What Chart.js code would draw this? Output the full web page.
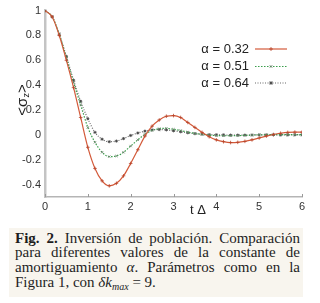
<!DOCTYPE html>
<html>
<head>
<meta charset="utf-8">
<script src="https://cdn.jsdelivr.net/npm/chart.js@4"></script>
<style>
  html, body { margin: 0; padding: 0; background: #fff; width: 320px; height: 303px; overflow: hidden; }
  #wrap { position: absolute; left: 0; top: 0; width: 320px; height: 225px; }
  #caption {
    position: absolute; left: 9px; top: 228px; width: 285px; height: 61px;
    padding: 2.6px 3px 5.4px 6px; background: #f8f5ee; color: #1e1e1e;
    font-family: "Liberation Serif", serif; font-size: 15px; line-height: 14.7px;
  }
  #caption .ln { text-align: justify; text-align-last: justify; white-space: nowrap; }
  #caption .ln.last { text-align-last: left; }
  #caption sub { font-size: 10px; line-height: 0; vertical-align: -3px; font-style: italic; }
</style>
</head>
<body>
<div id="wrap"><canvas id="c" width="320" height="225"></canvas></div>
<div id="caption">
  <div class="ln"><b>Fig. 2.</b> Inversión de población. Comparación</div>
  <div class="ln">para diferentes valores de la constante de</div>
  <div class="ln">amortiguamiento <i>α</i>. Parámetros como en la</div>
  <div class="ln last">Figura 1, con <i>δk</i><sub>max</sub> = 9.</div>
</div>
<script>
// time axis (t Δ), one sample per marker
const tValues = [0, 0.167, 0.333, 0.5, 0.667, 0.833, 1, 1.167, 1.333, 1.5, 1.667, 1.833,
  2, 2.167, 2.333, 2.5, 2.667, 2.833, 3, 3.167, 3.333, 3.5, 3.667, 3.833,
  4, 4.167, 4.333, 4.5, 4.667, 4.833, 5, 5.167, 5.333, 5.5, 5.667, 5.833, 6];

const sigmaA032 = [1, 0.95, 0.80, 0.60, 0.38, 0.14, -0.10, -0.27, -0.37, -0.41, -0.39, -0.33,
  -0.23, -0.12, -0.01, 0.07, 0.12, 0.15, 0.155, 0.14, 0.10, 0.06, 0.02, -0.015,
  -0.04, -0.055, -0.062, -0.06, -0.052, -0.04, -0.025, -0.01, 0.003, 0.013, 0.02, 0.022, 0.022];

const sigmaA051 = [1, 0.95, 0.81, 0.62, 0.42, 0.24, 0.06, -0.06, -0.14, -0.175, -0.17, -0.14,
  -0.09, -0.04, 0.005, 0.035, 0.05, 0.052, 0.045, 0.035, 0.022, 0.012, 0.004, -0.002,
  -0.006, -0.007, -0.007, -0.006, -0.004, -0.002, 0, 0.001, 0.002, 0.002, 0.002, 0.002, 0.002];

const sigmaA064 = [1, 0.95, 0.81, 0.63, 0.44, 0.27, 0.13, 0.02, -0.035, -0.055, -0.05, -0.03,
  -0.005, 0.015, 0.03, 0.04, 0.043, 0.04, 0.033, 0.025, 0.017, 0.01, 0.005, 0.002,
  0, -0.001, -0.002, -0.002, -0.002, -0.001, 0, 0, 0, 0, 0, 0, 0];

const seriesLabels = ['α = 0.32', 'α = 0.51', 'α = 0.64'];
const yTicks = [-0.4, -0.2, 0, 0.2, 0.4, 0.6, 0.8, 1];
const xTicks = [0, 1, 2, 3, 4, 5, 6];

const toPoints = ys => tValues.map((t, i) => ({ x: t, y: ys[i] }));

// labels, inward x ticks and the legend (text left, sample right)
const decorations = {
  id: 'decorations',
  afterDraw(chart) {
    const ctx = chart.ctx;
    const xs = chart.scales.x;
    const area = chart.chartArea;
    ctx.save();

    ctx.strokeStyle = '#9a9a9a';
    ctx.lineWidth = 1;
    xTicks.forEach(v => {
      const px = Math.round(xs.getPixelForValue(v)) + 0.5;
      ctx.beginPath();
      ctx.moveTo(px, area.bottom);
      ctx.lineTo(px, area.bottom - 3);
      ctx.stroke();
    });

    // y title <σz>
    ctx.fillStyle = '#222';
    ctx.save();
    ctx.translate(23, 100);
    ctx.rotate(-Math.PI / 2);
    ctx.textBaseline = 'middle';
    ctx.textAlign = 'left';
    ctx.font = '15px "Liberation Sans", sans-serif';
    const a = '<σ', b = 'z', c = '>';
    const wa = ctx.measureText(a).width, wc = ctx.measureText(c).width;
    ctx.font = '9px "Liberation Sans", sans-serif';
    const wb = ctx.measureText(b).width;
    let x0 = -(wa + wb + wc) / 2;
    ctx.font = '15px "Liberation Sans", sans-serif';
    ctx.fillText(a, x0, 0);
    ctx.font = '9px "Liberation Sans", sans-serif';
    ctx.fillText(b, x0 + wa, 4);
    ctx.font = '15px "Liberation Sans", sans-serif';
    ctx.fillText(c, x0 + wa + wb, 0);
    ctx.restore();

    // x title
    ctx.font = '13px "Liberation Sans", sans-serif';
    ctx.textAlign = 'center';
    ctx.textBaseline = 'middle';
    ctx.fillText('t Δ', 198, 210);

    // legend
    const rows = [49, 66.5, 83];
    chart.data.datasets.forEach((ds, i) => {
      const y = rows[i];
      ctx.fillStyle = '#222';
      ctx.font = '13px "Liberation Sans", sans-serif';
      ctx.textAlign = 'right';
      ctx.textBaseline = 'middle';
      ctx.fillText(ds.label, 249, y);
      ctx.strokeStyle = ds.borderColor;
      ctx.lineWidth = ds.borderWidth;
      ctx.setLineDash(ds.borderDash || []);
      ctx.beginPath();
      ctx.moveTo(255, y);
      ctx.lineTo(287, y);
      ctx.stroke();
      ctx.setLineDash([]);
      ctx.strokeStyle = ds.pointBorderColor;
      ctx.fillStyle = ds.pointBorderColor;
      ctx.lineWidth = 0.8;
      Chart.helpers.drawPoint(ctx, { pointStyle: ds.pointStyle, radius: 2, borderWidth: 0.8, rotation: 0 }, 271, y);
    });
    ctx.restore();
  }
};

new Chart(document.getElementById('c').getContext('2d'), {
  type: 'line',
  data: {
    datasets: [
      {
        label: seriesLabels[0], data: toPoints(sigmaA032),
        borderColor: '#d35a3a', borderWidth: 1.2, pointStyle: 'cross',
        pointBorderColor: '#b8442a', pointRadius: 1.8, pointBorderWidth: 0.8
      },
      {
        label: seriesLabels[1], data: toPoints(sigmaA051),
        borderColor: '#3a9e4c', borderWidth: 1.2, borderDash: [1.5, 1.5], pointStyle: 'crossRot',
        pointBorderColor: '#6b7f6b', pointRadius: 1.6, pointBorderWidth: 0.8
      },
      {
        label: seriesLabels[2], data: toPoints(sigmaA064),
        borderColor: '#6a6a6a', borderWidth: 1.2, borderDash: [1, 1.5], pointStyle: 'star',
        pointBorderColor: '#444', pointRadius: 1.6, pointBorderWidth: 0.8
      }
    ]
  },
  options: {
    responsive: false,
    animation: false,
    events: [],
    layout: { padding: { left: 0, right: 18, top: 10, bottom: 0 } },
    elements: { line: { cubicInterpolationMode: 'monotone', fill: false } },
    plugins: { legend: { display: false }, tooltip: { enabled: false } },
    scales: {
      x: {
        type: 'linear', min: 0, max: 6,
        grid: { display: false, drawTicks: false },
        border: { display: true, color: '#b5b5b5', width: 1.5 },
        ticks: { stepSize: 1, padding: 3, color: '#333', font: { size: 11, family: '"Liberation Sans", sans-serif' } },
        afterFit: s => { s.height = 28; }
      },
      y: {
        min: -0.5, max: 1,
        grid: { display: false, drawTicks: false },
        border: { display: true, color: '#c4c4c4', width: 2.5 },
        afterBuildTicks: s => { s.ticks = yTicks.map(v => ({ value: v })); },
        ticks: {
          padding: 4, color: '#333', font: { size: 11, family: '"Liberation Sans", sans-serif' },
          callback: v => String(Math.round(v * 10) / 10)
        },
        afterFit: s => { s.width = 45; }
      }
    }
  },
  plugins: [decorations]
});
</script>
</body>
</html>
